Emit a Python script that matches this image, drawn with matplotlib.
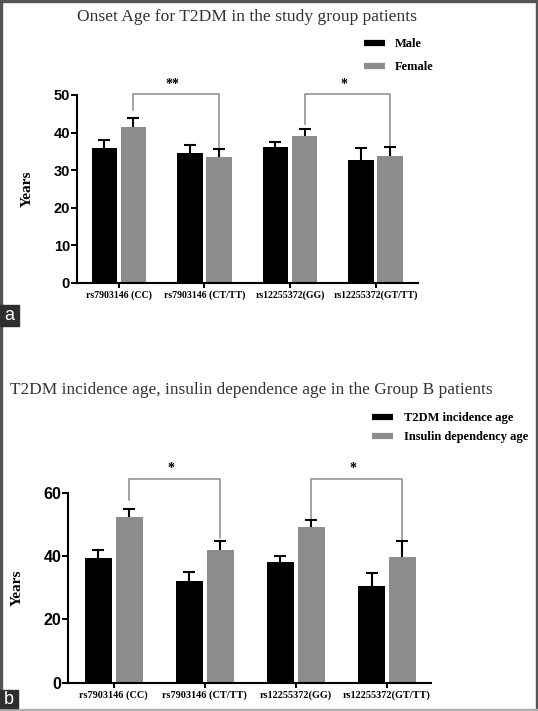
"""Render out.png: onset age / insulin dependence age bar charts (panels a and b)."""

import matplotlib
matplotlib.use("Agg")
import matplotlib.pyplot as plt
import numpy as np
from matplotlib.lines import Line2D
from matplotlib.patches import Rectangle

W, H = 538, 711
SERIF = "Liberation Serif"
SANS = "Liberation Sans"
BLACK = "#000000"
GRAY = "#8c8c8c"
LINE_GRAY = "#8a8a8a"

GENOTYPES = ["rs7903146 (CC)", "rs7903146 (CT/TT)", "rs12255372(GG)", "rs12255372(GT/TT)"]

# panel a: onset age by sex
A_MALE = [36.0, 34.6, 36.2, 32.8]
A_MALE_SEM = [2.0, 2.0, 1.3, 3.1]
A_FEMALE = [41.4, 33.5, 39.1, 33.7]
A_FEMALE_SEM = [2.4, 2.1, 1.9, 2.4]

# panel b: T2DM incidence age vs insulin dependency age
B_INCIDENCE = [39.5, 32.2, 38.0, 30.5]
B_INCIDENCE_SEM = [2.4, 2.7, 1.9, 4.0]
B_INSULIN = [52.4, 41.8, 49.3, 39.8]
B_INSULIN_SEM = [2.3, 3.0, 2.1, 4.9]

# significance brackets: (group i, group j, label)
A_SIG = [(0, 1, "**"), (2, 3, "*")]
B_SIG = [(0, 1, "*"), (2, 3, "*")]


def px(x, y):
    return x / W, 1 - y / H


def draw_panel(ax, s1, e1, s2, e2, ymax, yticks, xlim, sig, legs, top, star_y, tick_fs, xtick_fs):
    x = np.arange(len(GENOTYPES))
    off, width = 0.17, 0.30
    ax.bar(x - off, s1, width, color=BLACK, zorder=2)
    ax.bar(x + off, s2, width, color=GRAY, zorder=2)
    for xs, vals, errs in ((x - off, s1, e1), (x + off, s2, e2)):
        _, caps, _ = ax.errorbar(
            xs, vals, yerr=[np.zeros(len(vals)), errs], fmt="none",
            ecolor=BLACK, elinewidth=1.5, capsize=4.5, capthick=1.5, zorder=3,
        )
        caps[0].set_visible(False)

    # brackets between the second-series bars
    for (i, j, label), (lb, rb) in zip(sig, legs):
        xi, xj = i + off, j + off
        ax.plot([xi, xi, xj, xj], [lb, top, top, rb], color=LINE_GRAY,
                lw=1.1, clip_on=False, zorder=1)
        ax.text((xi + xj) / 2 - 0.04, star_y, label, ha="center", va="center",
                fontsize=10, fontweight="bold", family=SERIF, clip_on=False)

    ax.set_xlim(*xlim)
    ax.set_ylim(0, ymax)
    ax.set_yticks(yticks)
    ax.set_xticks(x)
    ax.set_xticklabels(GENOTYPES, family=SERIF, fontweight="bold", fontsize=xtick_fs)
    for lab in ax.get_yticklabels():
        lab.set_family(SANS)
        lab.set_fontweight("bold")
        lab.set_fontsize(tick_fs)
    ax.tick_params(axis="y", length=4, width=1.4, pad=1)
    ax.tick_params(axis="x", length=3.5, width=1.4, pad=2)
    for side in ("top", "right"):
        ax.spines[side].set_visible(False)
    for side in ("left", "bottom"):
        ax.spines[side].set_linewidth(1.5)
    ax.set_ylabel("Years", family=SERIF, fontweight="bold", fontsize=11, labelpad=14)


def main():
    fig = plt.figure(figsize=(W / 100, H / 100), dpi=100)

    # panel a
    ax_a = fig.add_axes([77 / W, 1 - 282.5 / H, 341.3 / W, 187.5 / H])
    draw_panel(ax_a, A_MALE, A_MALE_SEM, A_FEMALE, A_FEMALE_SEM, 50,
               [0, 10, 20, 30, 40, 50], (-0.49, 3.5), A_SIG,
               [(46.0, 36.2), (42.2, 36.4)], 50.3, 52.8, 10.5, 7.1)
    fig.text(*px(247, 17), "Onset Age for T2DM in the study group patients",
             ha="center", va="center", family=SERIF, fontsize=12.6, color="#333333")
    handles = [Line2D([], [], color=BLACK, lw=4.5, solid_capstyle="butt"),
               Line2D([], [], color=GRAY, lw=4.5, solid_capstyle="butt")]
    fig.legend(handles, ["Male", "Female"], loc="upper left",
               bbox_to_anchor=px(364, 38), frameon=False, borderpad=0,
               borderaxespad=0, handlelength=1.7, handletextpad=0.8,
               labelspacing=0.9, prop={"family": SERIF, "weight": "bold", "size": 9})

    # panel b
    ax_b = fig.add_axes([68.3 / W, 1 - 682.7 / H, 362.4 / W, 190 / H])
    draw_panel(ax_b, B_INCIDENCE, B_INCIDENCE_SEM, B_INSULIN, B_INSULIN_SEM, 60,
               [0, 20, 40, 60], (-0.5, 3.48), B_SIG,
               [(57.7, 45.6), (51.6, 45.1)], 64.3, 67.8, 11.5, 7.4)
    fig.text(*px(10, 390), "T2DM incidence age, insulin dependence age in the Group B patients",
             ha="left", va="center", family=SERIF, fontsize=12.4, color="#333333")
    fig.legend(handles, ["T2DM incidence age", "Insulin dependency age"], loc="upper left",
               bbox_to_anchor=px(371.7, 412), frameon=False, borderpad=0,
               borderaxespad=0, handlelength=1.7, handletextpad=0.85,
               labelspacing=0.55, prop={"family": SERIF, "weight": "bold", "size": 9})

    # panel letters
    for label, (x0, y0, x1, y1) in (("a", (0, 305, 19, 326)), ("b", (0, 690, 18, 708))):
        fig.patches.append(Rectangle(px(x0, y1), (x1 - x0) / W, (y1 - y0) / H,
                                     transform=fig.transFigure, color="#2e2e2e", zorder=5))
        fig.text(*px((x0 + x1) / 2, (y0 + y1) / 2), label, ha="center", va="center",
                 color="white", family=SANS, fontsize=13, zorder=6)

    # image frame
    for x0, y0, w, h, c in ((0, 0, 2, H, "#555555"), (0, 0, W, 1.5, "#555555"),
                            (536, 0, 2, 708, "#555555"), (0, 708.5, W, 2.5, "#b0b0b0")):
        fig.patches.append(Rectangle(px(x0, y0 + h), w / W, h / H,
                                     transform=fig.transFigure, color=c, zorder=4))

    fig.savefig("out.png", dpi=100)


if __name__ == "__main__":
    main()
